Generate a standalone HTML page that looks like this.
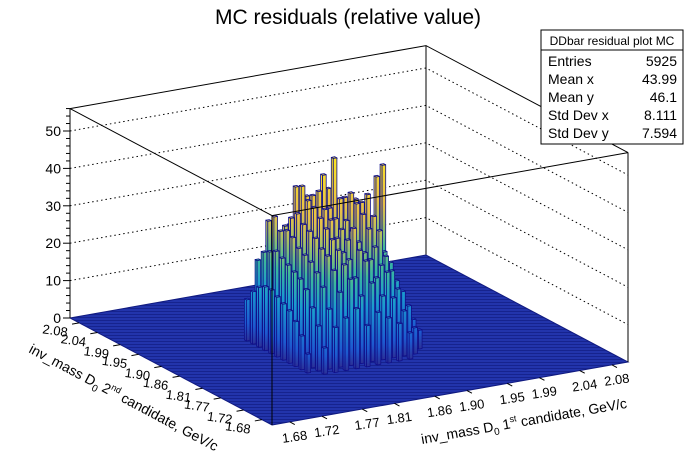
<!DOCTYPE html>
<html><head><meta charset="utf-8"><style>
body{margin:0;background:#fff;}
svg{display:block;font-family:"Liberation Sans",Arial,sans-serif;}
</style></head><body>
<svg id="chart" width="696" height="472" viewBox="0 0 696 472">
<defs>
<linearGradient id="zg" gradientUnits="userSpaceOnUse" x1="0" y1="0" x2="0" y2="-180">
<stop offset="0" stop-color="#2b2f95"/>
<stop offset="0.1" stop-color="#1d5ad0"/>
<stop offset="0.3" stop-color="#1a9ad0"/>
<stop offset="0.45" stop-color="#3cb89c"/>
<stop offset="0.6" stop-color="#b0c060"/>
<stop offset="0.7" stop-color="#e8c048"/>
<stop offset="1" stop-color="#fce820"/>
</linearGradient>
<pattern id="floorpat" width="4" height="3" patternUnits="userSpaceOnUse">
<rect width="4" height="3" fill="#2234ab"/>
<rect y="2" width="4" height="1" fill="#16238e"/>
</pattern>
</defs>
<text x="348" y="24" font-size="21" text-anchor="middle">MC residuals (relative value)</text>
<g id="back"></g>
<g id="floor"></g>
<g id="bars"></g>
<g id="front"></g>
<g id="axes"></g>
<g font-size="14">
<rect x="541" y="30" width="142" height="114" fill="#fff" stroke="#000" stroke-width="1"/>
<line x1="541" y1="50" x2="683" y2="50" stroke="#000"/>
<text x="612" y="45" text-anchor="middle" font-size="12">DDbar residual plot MC</text>
<text x="548" y="66">Entries</text><text x="677" y="66" text-anchor="end">5925</text>
<text x="548" y="84">Mean x</text><text x="677" y="84" text-anchor="end">43.99</text>
<text x="548" y="102">Mean y</text><text x="677" y="102" text-anchor="end">46.1</text>
<text x="548" y="120">Std Dev x</text><text x="677" y="120" text-anchor="end">8.111</text>
<text x="548" y="138">Std Dev y</text><text x="677" y="138" text-anchor="end">7.594</text>
</g>
<text transform="translate(422,444) rotate(-10)" font-size="14">inv_mass D<tspan font-size="10" dy="4">0</tspan><tspan dy="-4"> 1</tspan><tspan font-size="9" dy="-6">st</tspan><tspan dy="6"> candidate, GeV/c</tspan></text>
<text transform="translate(28,352) rotate(28)" font-size="14">inv_mass D<tspan font-size="10" dy="4">0</tspan><tspan dy="-4"> 2</tspan><tspan font-size="9" dy="-6">nd</tspan><tspan dy="6"> candidate, GeV/c</tspan></text>
</svg>
<script>
const xTicks = [1.68,1.72,1.77,1.81,1.86,1.90,1.95,1.99,2.04,2.08];
const yTicks = [1.68,1.72,1.77,1.81,1.86,1.90,1.95,1.99,2.04,2.08];
const zTicks = [0,10,20,30,40,50];
const binXs = [28,31,34,37,40,43,46,49,52,55,58,61];
const binYs = [29,32,35,38,41,44,47,50,53,56,59,62];
const row29=[0,7,12,14,16,11,14,12,10,7,0,0];
const row32=[5,12,16,20,23,18,21,17,16,12,7,0];
const row35=[9,16,21,25,26,22,26,21,22,17,12,5];
const row38=[12,20,24,28,29,26,28,25,23,21,15,7];
const row41=[14,22,26,29,31,27,33,26,27,24,17,9];
const row44=[15,23,27,31,33,30,29,28,31,30,21,10];
const row47=[16,24,28,32,35,34,31,30,34,33,23,12];
const row50=[17,25,30,33,37,36,33,32,36,38,26,12];
const row53=[17,26,31,35,38,40,35,37,38,35,30,44];
const row56=[16,25,30,33,41,38,43,47,36,35,32,40];
const row59=[14,24,33,30,40,37,34,38,33,30,28,10];
const row62=[11,21,31,26,29,30,28,26,23,20,14,5];
const heights=[row29,row32,row35,row38,row41,row44,row47,row50,row53,row56,row59,row62];

const NS="http://www.w3.org/2000/svg";
const ZMAX=56, ZPX=3.74, NB=100, AMIN=1.658, AMAX=2.100;
function P(u,v,z){return [272+356*u-202*v, 425-63*u-107*v-ZPX*z];}
function au(val){return (val-AMIN)/(AMAX-AMIN);}
function mk(tag,attrs,parent){const e=document.createElementNS(NS,tag);for(const k in attrs)e.setAttribute(k,attrs[k]);parent.appendChild(e);return e;}
function pts(a){return a.map(p=>p[0].toFixed(1)+","+p[1].toFixed(1)).join(" ");}

const back=document.getElementById("back");
zTicks.forEach(z=>{
  if(z===0)return;
  const a=P(0,1,z),b=P(1,1,z),c=P(1,0,z);
  const l=mk("polyline",{points:pts([a,b,c]),fill:"none",stroke:"#000","stroke-dasharray":"1.5,3","stroke-width":"1"},back);
  
  
});
{
  const a=P(0,1,ZMAX),b=P(1,1,ZMAX),c=P(1,0,ZMAX),d=P(1,1,0);
  mk("polyline",{points:pts([a,b,c]),fill:"none",stroke:"#000","stroke-width":"1"},back);
  mk("line",{x1:b[0],y1:b[1],x2:d[0],y2:d[1],stroke:"#000"},back);
}
const floor=document.getElementById("floor");
const fl=mk("polygon",{points:pts([P(0,0,0),P(1,0,0),P(1,1,0),P(0,1,0)]),fill:"url(#floorpat)",stroke:"#101a80","stroke-width":"1"},floor);



const list=[];
binYs.forEach((iy,r)=>binXs.forEach((ix,c)=>{const h=heights[r][c];if(h>0)list.push([ix,iy,h]);}));
list.sort((a,b)=>(b[0]+b[1])-(a[0]+a[1]));
const bars=document.getElementById("bars");
list.forEach(([ix,iy,h])=>{
  const u0=ix/NB,u1=(ix+1)/NB,v0=iy/NB,v1=(iy+1)/NB;
  const A=P(u0,v0,0),B=P(u1,v0,0),C=P(u0,v1,0);
  const g=mk("g",{transform:`translate(${A[0].toFixed(1)},${A[1].toFixed(1)})`},bars);
  
  
  const hz=ZPX*h;
  const b=[B[0]-A[0],B[1]-A[1]],c=[C[0]-A[0],C[1]-A[1]];
  const st={stroke:"#10108a","stroke-width":"0.8","stroke-linejoin":"round"};
  mk("polygon",Object.assign({points:pts([[0,0],c,[c[0],c[1]-hz],[0,-hz]]),fill:"url(#zg)"},st),g);
  mk("polygon",Object.assign({points:pts([[0,0],b,[b[0],b[1]-hz],[0,-hz]]),fill:"url(#zg)"},st),g);
  mk("polygon",Object.assign({points:pts([[0,-hz],[b[0],b[1]-hz],[b[0]+c[0],b[1]+c[1]-hz],[c[0],c[1]-hz]]),fill:"url(#zg)"},st),g);
});

const front=document.getElementById("front");
{
  const a=P(0,1,ZMAX),f=P(0,0,ZMAX),r=P(1,0,ZMAX),f0=P(0,0,0),r0=P(1,0,0);
  mk("polyline",{points:pts([a,f,r]),fill:"none",stroke:"#000"},front);
  mk("line",{x1:f[0],y1:f[1],x2:f0[0],y2:f0[1],stroke:"#000"},front);
  mk("line",{x1:r[0],y1:r[1],x2:r0[0],y2:r0[1],stroke:"#000"},front);
}
const axes=document.getElementById("axes");
{
  const a=P(0,1,0),b=P(0,1,ZMAX);
  mk("line",{x1:a[0],y1:a[1],x2:b[0],y2:b[1],stroke:"#000"},axes);
  for(let z=0;z<=ZMAX;z+=2){
    const p=P(0,1,z),len=(z%10===0)?7:4;
    mk("line",{x1:p[0],y1:p[1],x2:p[0]-len,y2:p[1],stroke:"#000"},axes);
  }
}
zTicks.forEach(z=>{
  const p=P(0,1,z);
  const t=mk("text",{x:p[0]-9,y:p[1]+5,"font-size":"14","text-anchor":"end"},axes);
  t.textContent=String(z);
  
  
});
xTicks.forEach(val=>{
  const u=au(val),p=P(u,0,0),q=P(u,-0.025,0);
  mk("line",{x1:p[0],y1:p[1],x2:q[0],y2:q[1],stroke:"#000"},axes);
  const t=mk("text",{transform:`translate(${(p[0]-7).toFixed(1)},${(p[1]+21).toFixed(1)}) rotate(-8)`,"font-size":"13"},axes);
  t.textContent=val.toFixed(2);
  
  
});
yTicks.forEach(val=>{
  const v=au(val),p=P(0,v,0),q=P(-0.02,v,0);
  mk("line",{x1:p[0],y1:p[1],x2:q[0],y2:q[1],stroke:"#000"},axes);
  const t=mk("text",{transform:`translate(${(p[0]-12).toFixed(1)},${(p[1]+14).toFixed(1)}) rotate(8)`,"font-size":"13","text-anchor":"end"},axes);
  t.textContent=val.toFixed(2);
  
  
});
</script>
</body></html>
